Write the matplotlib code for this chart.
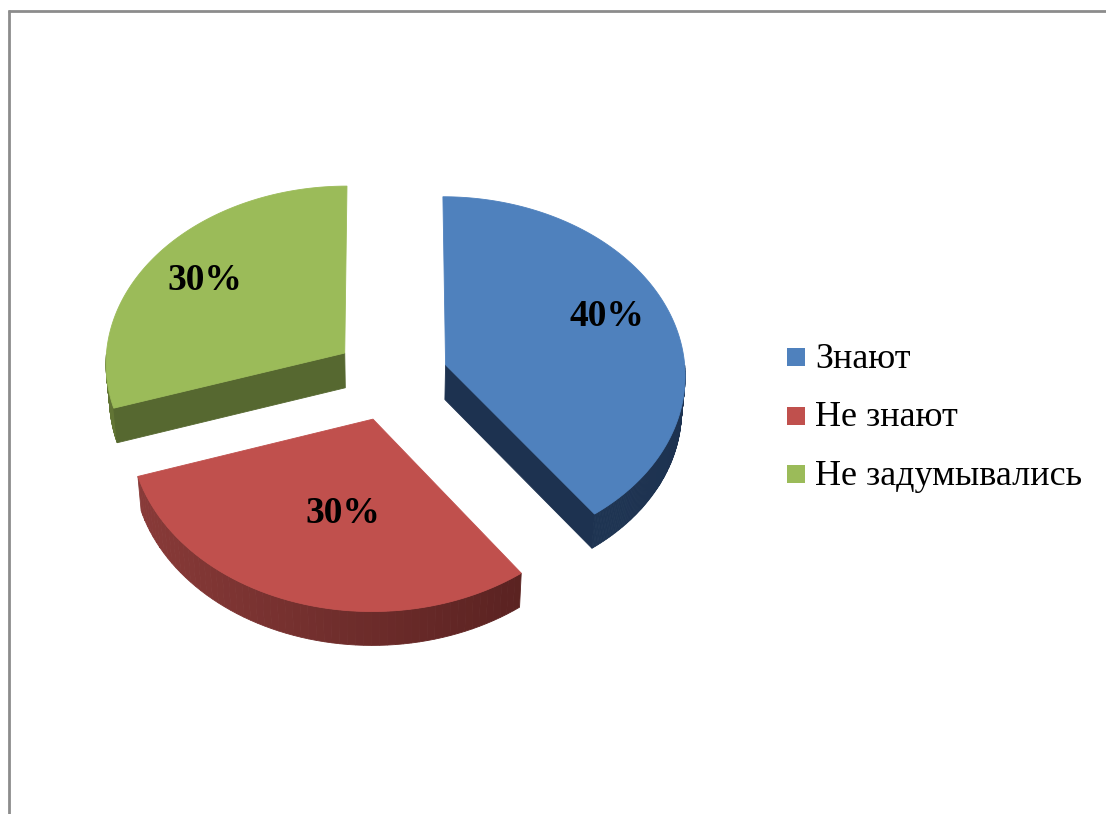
import numpy as np
import matplotlib
matplotlib.use("Agg")
import matplotlib.pyplot as plt
from matplotlib.patches import Polygon, Rectangle
from matplotlib.colors import to_rgb

# ---- data -------------------------------------------------------------
categories = ["Знают", "Не знают", "Не задумывались"]
shares = [40, 30, 30]
label_texts = ["40%", "30%", "30%"]

top_colors = ["#4F81BD", "#C0504D", "#9BBB59"]
side_light = ["#243D5C", "#8A3B39", "#627535"]
side_dark = ["#1D3250", "#4E1C1B", "#566830"]
label_radius = [0.73, 0.53, 0.72]
label_nudge = [(-2, -9), (11, 0), (-5, 0)]   # fine placement in pixels

# ---- 3D pie geometry (pixel space) -------------------------------------
W, H = 1106, 814
CX, CY = 391.0, 378.0       # centre of the un-exploded pie
R = 240.0                   # radius in pixels
ELEV = np.arcsin(0.742)     # viewing elevation
DIST = 13.0                 # camera distance (in radii)
THICK = 0.218               # slab thickness (in radii)
EXPLODE = 0.24              # explode offset (in radii)


def proj(u, w, z):
    """Project disc coords (u right, w back, z up) to screen pixels."""
    u = np.asarray(u, float)
    w = np.asarray(w, float)
    z = np.asarray(z, float)
    ce, se = np.cos(ELEV), np.sin(ELEV)
    depth = DIST + w * ce - z * se
    p = DIST / depth
    up = w * se + z * ce
    return CX + R * u * p, CY - R * up * p


def mix(c1, c2, t):
    a, b = np.array(to_rgb(c1)), np.array(to_rgb(c2))
    return tuple(a * (1 - t) + b * t)


fig = plt.figure(figsize=(W / 100, H / 100), dpi=100)
ax = fig.add_axes([0, 0, 1, 1])
ax.set_xlim(0, W)
ax.set_ylim(H, 0)
ax.axis("off")

# chart frame (top and left edges visible)
ax.plot([8, W + 5], [10.5, 10.5], color="#8C8C8C", lw=2.0, solid_capstyle="butt")
ax.plot([8.5, 8.5], [10, H + 5], color="#8C8C8C", lw=2.0, solid_capstyle="butt")

total = float(sum(shares))
bounds = np.concatenate([[0.0], np.cumsum(shares) / total * 360.0])

slices = []
for i in range(len(shares)):
    a0, a1 = np.radians(bounds[i]), np.radians(bounds[i + 1])
    mid = 0.5 * (a0 + a1)
    ou, ow = EXPLODE * np.sin(mid), EXPLODE * np.cos(mid)
    slices.append((i, a0, a1, mid, ou, ow))

# paint from back to front
order = sorted(slices, key=lambda s: -s[5])

for i, a0, a1, mid, ou, ow in order:
    # outer curved side, only the part facing the viewer (cos < 0)
    th = np.linspace(a0, a1, 300)
    vis = np.cos(th) < 0
    if vis.any():
        tv = th[vis]
        n = len(tv)
        step = max(1, n // 60)
        for k in range(0, n - 1, step):
            seg = tv[k:min(k + step + 1, n)]
            xt, yt = proj(ou + np.sin(seg), ow + np.cos(seg), 0.0)
            xb, yb = proj(ou + np.sin(seg), ow + np.cos(seg), -THICK)
            t = (1 - np.sin(seg.mean())) / 2
            col = mix(side_dark[i], side_light[i], t)
            poly = np.column_stack([np.r_[xt, xb[::-1]], np.r_[yt, yb[::-1]]])
            ax.add_patch(Polygon(poly, closed=True, facecolor=col,
                                 edgecolor=col, lw=0.6))
    # flat radial sides facing the viewer
    for ang, sgn in ((a0, -1), (a1, 1)):
        nrm = ang + sgn * np.pi / 2
        if np.cos(nrm) < -1e-3:
            us = [ou, ou + np.sin(ang), ou + np.sin(ang), ou]
            ws = [ow, ow + np.cos(ang), ow + np.cos(ang), ow]
            zs = [0, 0, -THICK, -THICK]
            x, y = proj(us, ws, zs)
            ax.add_patch(Polygon(np.column_stack([x, y]), closed=True,
                                 facecolor=side_dark[i], edgecolor=side_dark[i],
                                 lw=0.6))
    # top face
    th = np.linspace(a0, a1, 200)
    us = np.r_[ou, ou + np.sin(th)]
    ws = np.r_[ow, ow + np.cos(th)]
    x, y = proj(us, ws, 0.0)
    ax.add_patch(Polygon(np.column_stack([x, y]), closed=True,
                         facecolor=top_colors[i], edgecolor=top_colors[i], lw=0.6))

# value labels
for i, a0, a1, mid, ou, ow in slices:
    r = label_radius[i]
    x, y = proj(ou + r * np.sin(mid), ow + r * np.cos(mid), 0.0)
    dx, dy = label_nudge[i]
    ax.text(float(x) + dx, float(y) + dy, label_texts[i], ha="center",
            va="center", fontsize=27, fontweight="bold",
            family="Liberation Serif", color="black")

# legend
leg_x, leg_base0, leg_dy, box = 787, 368, 58.5, 18
for i, name in enumerate(categories):
    base = leg_base0 + i * leg_dy
    ax.add_patch(Rectangle((leg_x, base - 20), box, box,
                           facecolor=top_colors[i], edgecolor="none"))
    ax.text(leg_x + box + 10, base, name, ha="left", va="baseline",
            fontsize=26, family="Liberation Serif", color="black")

fig.savefig("out.png", dpi=100)
